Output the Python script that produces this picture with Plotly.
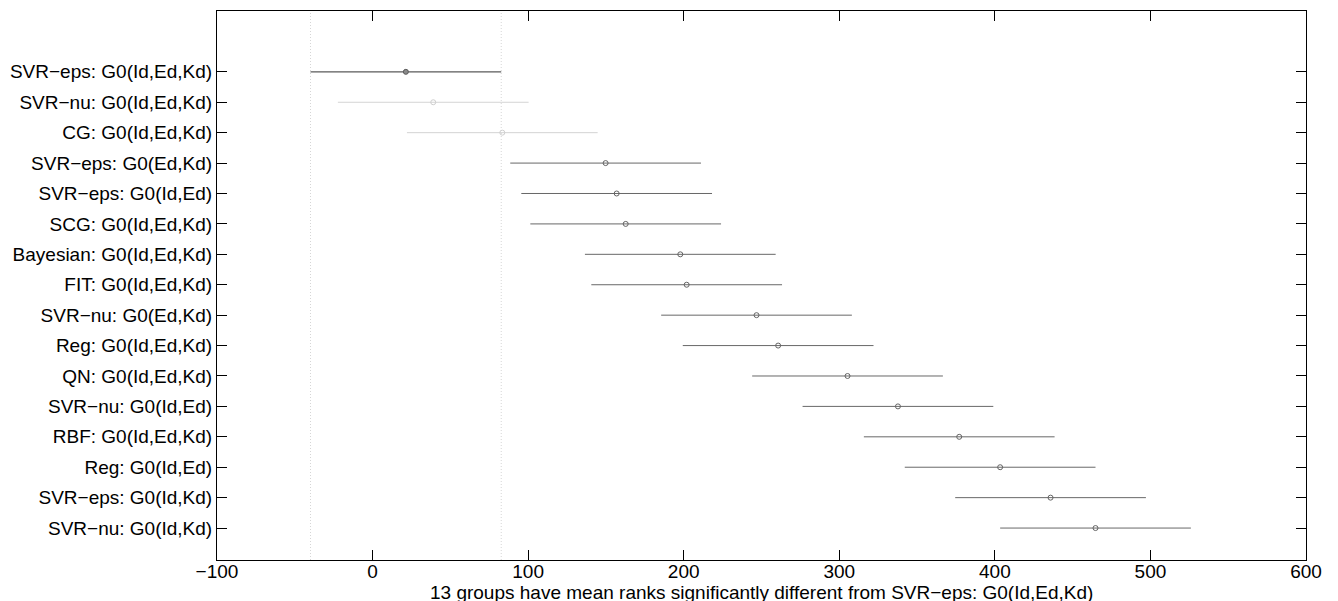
import plotly.graph_objects as go

groups = [
    "SVR−eps: G0(Id,Ed,Kd)", "SVR−nu: G0(Id,Ed,Kd)", "CG: G0(Id,Ed,Kd)",
    "SVR−eps: G0(Ed,Kd)", "SVR−eps: G0(Id,Ed)", "SCG: G0(Id,Ed,Kd)",
    "Bayesian: G0(Id,Ed,Kd)", "FIT: G0(Id,Ed,Kd)", "SVR−nu: G0(Ed,Kd)",
    "Reg: G0(Id,Ed,Kd)", "QN: G0(Id,Ed,Kd)", "SVR−nu: G0(Id,Ed)",
    "RBF: G0(Id,Ed,Kd)", "Reg: G0(Id,Ed)", "SVR−eps: G0(Id,Kd)",
    "SVR−nu: G0(Id,Kd)",
]
mean_ranks = [21.4, 39.0, 83.4, 149.8, 156.9, 162.7, 197.8, 201.9,
              246.8, 260.7, 305.3, 337.7, 377.1, 403.4, 435.8, 464.7]
half_width = [61.3] * 16
# 0 = selected, 1 = not significantly different, 2 = significantly different
status = [0, 1, 1, 2, 2, 2, 2, 2, 2, 2, 2, 2, 2, 2, 2, 2]
x_ticks = [-100, 0, 100, 200, 300, 400, 500, 600]
x_title = "13 groups have mean ranks significantly different from SVR−eps: G0(Id,Ed,Kd)"

n = len(groups)
ypos = [n - i for i in range(n)]

line_col = {0: "#5a5a5a", 1: "#d4d4d4", 2: "#686868"}
mk_col = {0: "#5a5a5a", 1: "#cfcfcf", 2: "#646464"}

FONT = "Liberation Sans, Arial, sans-serif"
FS = 19

fig = go.Figure()

sel_lo = mean_ranks[0] - half_width[0]
sel_hi = mean_ranks[0] + half_width[0]
for xv in (sel_lo, sel_hi):
    fig.add_trace(go.Scatter(x=[xv, xv], y=[-0.05, 18.0], mode="lines",
                             line=dict(color="#d6d6d6", width=1, dash="1px,2px"),
                             hoverinfo="skip", showlegend=False))

for i in range(n):
    m, h, s, y = mean_ranks[i], half_width[i], status[i], ypos[i]
    fig.add_trace(go.Scatter(x=[m - h, m + h], y=[y, y], mode="lines",
                             line=dict(color=line_col[s], width=1.4 if s == 0 else 1),
                             showlegend=False))
    fig.add_trace(go.Scatter(x=[m], y=[y], mode="markers",
                             marker=dict(symbol="circle" if s == 0 else "circle-open",
                                         size=5, color="#8a8a8a" if s == 0 else mk_col[s],
                                         line=dict(color=mk_col[s], width=1)),
                             showlegend=False))

fig.add_annotation(text=x_title, xref="paper", yref="paper", x=0.5, y=-0.036,
                   xanchor="center", yanchor="top", showarrow=False,
                   font=dict(family=FONT, size=FS, color="black"))

# page body has an 8px margin, so the margins are shifted to compensate
fig.update_layout(
    width=1338, height=601,
    margin=dict(l=209, r=40, t=3, b=49),
    paper_bgcolor="white", plot_bgcolor="white",
    font=dict(family=FONT, size=FS, color="black"),
    showlegend=False,
)
fig.update_xaxes(range=[-100, 600], tickvals=x_ticks,
                 ticktext=[str(v).replace("-", "−") for v in x_ticks],
                 ticks="inside", ticklen=10, tickcolor="black",
                 ticklabelstandoff=-6,
                 showline=True, linecolor="black", linewidth=1, mirror="ticks",
                 showgrid=False, zeroline=False, automargin=False)
fig.update_yaxes(range=[-0.05, 18.0], tickvals=ypos, ticktext=groups,
                 ticks="inside", ticklen=10, tickcolor="black",
                 showline=True, linecolor="black", linewidth=1, mirror="ticks",
                 showgrid=False, zeroline=False, automargin=False)

fig.write_html("out.html")
